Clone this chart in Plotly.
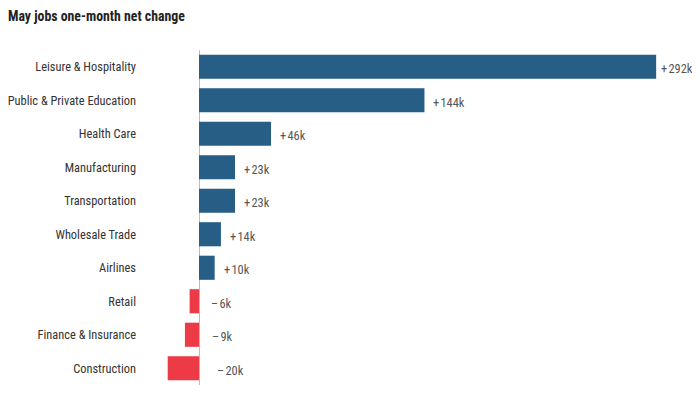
import plotly.graph_objects as go

categories = ["Leisure & Hospitality", "Public & Private Education", "Health Care",
              "Manufacturing", "Transportation", "Wholesale Trade", "Airlines",
              "Retail", "Finance & Insurance", "Construction"]
values = [292, 144, 46, 23, 23, 14, 10, -6, -9, -20]
value_labels = ["+292k", "+144k", "+46k", "+23k", "+23k", "+14k", "+10k", "\u22126k", "\u22129k", "\u221220k"]

BLUE = "#265E85"
RED = "#EC3A46"
FONT = "Liberation Sans Narrow, Roboto Condensed, Arial Narrow, sans-serif"

colors = [BLUE if v >= 0 else RED for v in values]
vmax = max(values)

fig = go.Figure(go.Bar(
    y=categories, x=values, orientation="h",
    marker=dict(color=colors, line=dict(width=0)),
    width=0.72, hoverinfo="skip",
))

for c, v, t in zip(categories, values, value_labels):
    if v >= 0:
        fig.add_annotation(x=v, y=c, text=t.replace("+", "+\u200a"), xanchor="left", showarrow=False,
                           xshift=3 if v == vmax else 7, yshift=-2,
                           font=dict(size=12.4, color="#555", family=FONT))
    else:
        fig.add_annotation(x=0, y=c, text=t.replace("\u2212", "\u2013\u200a"), xanchor="left", showarrow=False,
                           xshift=7 + 0.45 * abs(v), yshift=-2, font=dict(size=12.4, color="#555", family=FONT))

fig.update_layout(
    width=692, height=391,
    margin=dict(l=137, r=0, t=42, b=14),
    plot_bgcolor="white", paper_bgcolor="white",
    showlegend=False,
    title=dict(text="<b>May jobs one-month net change</b>", x=0.0, xanchor="left",
               y=1 - 8 / 391, yanchor="middle", font=dict(size=13.8, color="#222", family=FONT)),
    xaxis=dict(range=[-34.5, 320], showgrid=False, showticklabels=False, ticks="",
               zeroline=True, zerolinecolor="#bbbbbb", zerolinewidth=1, fixedrange=True),
    yaxis=dict(autorange="reversed", showgrid=False, ticks="", ticklabelstandoff=8,
               tickfont=dict(size=12.4, color="#333", family=FONT), fixedrange=True),
)

fig.write_html("out.html")
